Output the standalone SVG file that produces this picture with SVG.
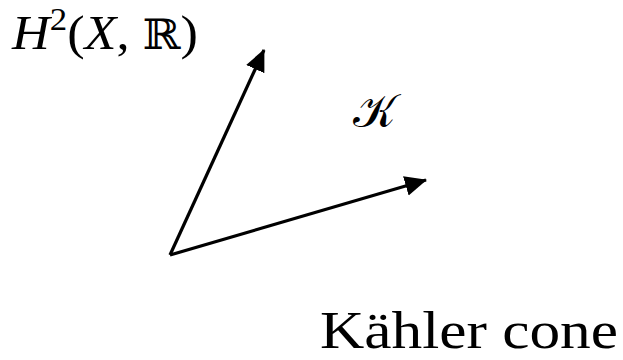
<svg xmlns="http://www.w3.org/2000/svg" width="623" height="360" viewBox="0 0 623 360">
<style>
.ax{stroke:#000;stroke-width:3.2;fill:none}
.t{font-family:"Liberation Serif","DejaVu Serif",serif;fill:#000}
</style>
<defs>
<marker id="ah" markerUnits="userSpaceOnUse" markerWidth="24" markerHeight="22" refX="21" refY="10" orient="auto">
<path d="M0,0 L22,10 L0,20 Z" fill="#000"/>
</marker>
</defs>
<rect width="623" height="360" fill="#fff"/>
<g id="connectors">
<line class="ax" x1="170" y1="255" x2="264" y2="50" marker-end="url(#ah)"/>
<line class="ax" x1="170" y1="255" x2="426" y2="180" marker-end="url(#ah)"/>
</g>
<g id="space-label">
<text class="t" x="12" y="49" font-size="48" textLength="186" lengthAdjust="spacingAndGlyphs"><tspan font-style="italic">H</tspan><tspan font-size="32" dy="-19">2</tspan><tspan dy="19">(</tspan><tspan font-style="italic">X</tspan><tspan>, </tspan><tspan font-family="DejaVu Serif" font-size="42">ℝ</tspan><tspan>)</tspan></text>
</g>
<g id="kahler-symbol">
<text class="t" x="353" y="127" font-size="46" font-family="DejaVu Serif">𝒦</text>
</g>
<g id="kahler-cone-label">
<text class="t" x="320" y="348" font-size="52" textLength="298" lengthAdjust="spacingAndGlyphs">Kähler cone</text>
</g>
</svg>
